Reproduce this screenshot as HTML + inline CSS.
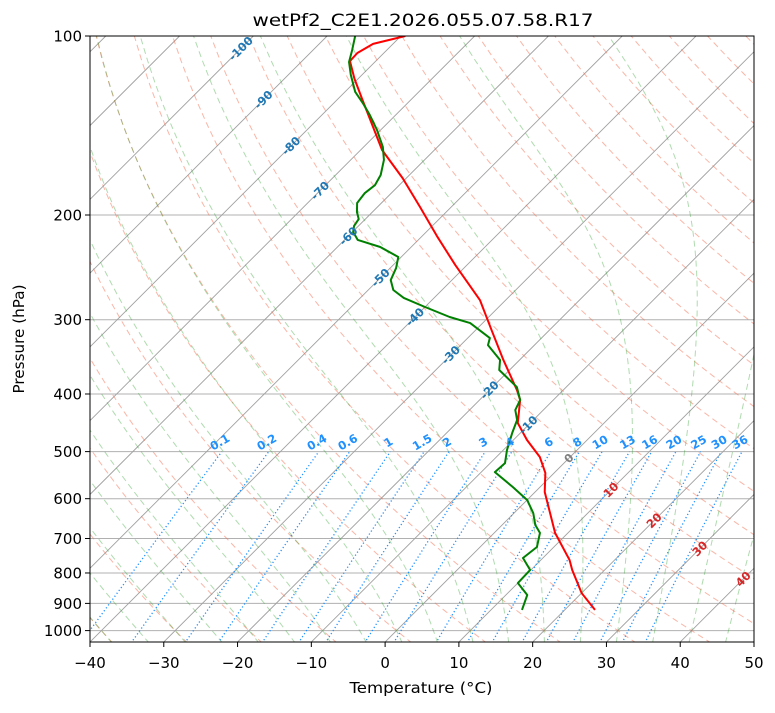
<!DOCTYPE html>
<html><head><meta charset="utf-8">
<style>
html,body{margin:0;padding:0;background:#fff;}
svg text{font-family:"DejaVu Sans","Liberation Sans",sans-serif;}
</style></head>
<body>
<svg id="chart" width="775" height="708" viewBox="0 0 775 708" xmlns="http://www.w3.org/2000/svg">
<defs><clipPath id="plotclip"><rect x="90" y="36" width="664" height="606"/></clipPath></defs>
<rect x="0" y="0" width="775" height="708" fill="#fff"/>
<text x="423" y="26" text-anchor="middle" font-size="17" textLength="341" lengthAdjust="spacingAndGlyphs" fill="#000">wetPf2_C2E1.2026.055.07.58.R17</text>
<g id="plot" clip-path="url(#plotclip)"></g>
<g id="labels"></g>
<g id="axes"></g>
</svg>
<script>
// ---- data ----
const tempP = [100,103.1,106.8,110.2,118,128.2,155.5,173.4,194,217,242.7,278,312,350.6,393.8,409.4,447.6,478,510.6,543,584.6,685,761,790.8,864.7,923];
const tempT = [-79.4,-82.7,-83.6,-83.5,-80.5,-76.5,-67.1,-60.5,-54.2,-48,-41.6,-33.5,-27.9,-22.2,-16.3,-14.5,-11.7,-8.15,-4.1,-1.2,1.3,8.25,13.9,15.6,20,24.1];
const dewP = [100,105.6,110.6,116.3,124.2,129.7,135.8,143.9,153.7,161.6,171.3,178.1,183.7,190.9,197.7,203.2,208.7,213.6,220.3,226.4,235.3,245.6,257.3,267.4,275.8,285.6,296.9,303.9,322.1,331,350.6,364.5,389.4,409.4,425.6,442.4,465.3,497,522.7,541.3,573.5,603,634.3,664.4,685,723.4,754.9,790.8,831.8,871.3,923];
const dewT = [-86.2,-84.7,-83.5,-81.5,-78.6,-76.05,-73.5,-70.5,-67.4,-65.5,-63.9,-63.3,-63.6,-63.3,-62.1,-60.9,-60.6,-59.9,-58.2,-54.2,-50.4,-49.2,-48.3,-46.6,-44.1,-40,-35.3,-31.7,-27,-26.3,-22.65,-21.4,-16.7,-14.5,-13.8,-12.2,-11.1,-9.5,-8,-8.15,-3.7,0,2.6,4.5,6.2,7.7,7.3,9.9,10,12.9,14.2];
const xTicks = [-40,-30,-20,-10,0,10,20,30,40,50];
const pTicks = [100,200,300,400,500,600,700,800,900,1000];
const isoTemps = [-100,-90,-80,-70,-60,-50,-40,-30,-20,-10,0,10,20,30,40];
const isoLabelP = [105,128,153,182,217,255,297,344,394,451,513,580,653,728,819];
const mixRatios = [0.1,0.2,0.4,0.6,1,1.5,2,3,4,6,8,10,13,16,20,25,30,36];
const dryT0 = [-40,-30,-20,-10,0,10,20,30,40,50,60,70,80,90,100,110,120,130,140,150,160,170,180,190,200];
const moistT0 = [-50,-45,-40,-35,-30,-25,-20,-15,-10,-5,0,5,10,15,20,25,30,35,40,45];

// ---- scales ----
const X0=90, X1=754, Y0=36, YB=642, PX=(X1-X0)/90, DEC=594.6;
function yP(p){return Y0+DEC*Math.log10(p/100);}
function xT(t,p){return X0+(t+40)*PX+(YB-yP(p));}
const NS="http://www.w3.org/2000/svg";
function mk(tag,attrs,parent){const e=document.createElementNS(NS,tag);for(const k in attrs)e.setAttribute(k,attrs[k]);parent.appendChild(e);return e;}
const plot=document.getElementById('plot'), labels=document.getElementById('labels'), axes=document.getElementById('axes');
function pathFrom(ts,ps){let d='';for(let i=0;i<ts.length;i++){d+=(i?'L':'M')+xT(ts[i],ps[i]).toFixed(2)+','+yP(ps[i]).toFixed(2);}return d;}
const pGrid=[];for(let p=1050;p>=100;p-=10)pGrid.push(p);

// horizontal grid
for(const p of pTicks){
  const l=mk('line',{x1:X0,x2:X1,y1:yP(p),y2:yP(p),stroke:'#b0b0b0','stroke-width':1},plot);
  
  
}
// isotherms
for(let t=-160;t<=60;t+=10){
  const l=mk('line',{x1:xT(t,1050),y1:yP(1050),x2:xT(t,100),y2:yP(100),stroke:'#a0a0a0','stroke-width':0.9},plot);
  
  
}
// dry adiabats
for(const t0 of dryT0){
  const ts=pGrid.map(p=>(t0+273.15)*Math.pow(p/1000,0.2857)-273.15);
  const e=mk('path',{d:pathFrom(ts,pGrid),fill:'none',stroke:'rgba(245,110,80,0.5)','stroke-width':1,'stroke-dasharray':'6,4'},plot);
  
  
}
// moist adiabats
function es(t){return 6.112*Math.exp(17.67*t/(t+243.5));}
function moistRate(t,p){const T=t+273.15,Rd=287.04,Cp=1005.7,L=2.501e6,eps=0.622;const e=es(t);const rs=eps*e/(p-e);
  const num=(Rd*T+L*rs)/(Cp+(L*L*rs*eps)/(Rd*T*T));return num/p;}
function moist(t0){const res={};let t=t0;res[1000]=t;
  for(let p=1000;p>100;p-=1){t-=moistRate(t,p)*1;if((p-1)%10===0)res[p-1]=t;}
  t=t0;for(let p=1000;p<1050;p+=1){t+=moistRate(t,p);if((p+1)%10===0)res[p+1]=t;}
  return pGrid.map(p=>res[p]);}
for(const t0 of moistT0){
  const e=mk('path',{d:pathFrom(moist(t0),pGrid),fill:'none',stroke:'rgba(44,160,44,0.38)','stroke-width':1,'stroke-dasharray':'6,4'},plot);
  
  
}
// mixing ratio lines
function tdFromW(w,p){const e=w*p/(0.622+w);const l=Math.log(e/6.112);return 243.5*l/(17.67-l);}
const mpGrid=[];for(let p=1050;p>=500;p-=10)mpGrid.push(p);
for(const w of mixRatios){
  const ts=mpGrid.map(p=>tdFromW(w/1000,p));
  const e=mk('path',{d:pathFrom(ts,mpGrid),fill:'none',stroke:'#1e90ff','stroke-width':1.3,'stroke-dasharray':'1.2,2.4'},plot);
  
  
  const x=xT(tdFromW(w/1000,500),500), y=yP(500)-6;
  const tx=mk('text',{x:x,y:y,'text-anchor':'middle','font-size':11.5,'font-weight':'bold',fill:'#1e90ff',transform:`rotate(-30 ${x} ${y})`},labels);
  tx.textContent=String(w);
  
  
}
// isotherm labels
isoTemps.forEach((t,i)=>{
  const p=isoLabelP[i];const x=xT(t,p), y=yP(p);
  const col=t<0?'#1f77b4':(t===0?'#808080':'#d62728');
  const tx=mk('text',{x:x,y:y+4,'text-anchor':'middle','font-size':11.5,'font-weight':'bold',fill:col,transform:`rotate(-45 ${x} ${y})`},labels);
  tx.textContent=String(t);
  
  
});
// profiles
const tl=mk('path',{d:pathFrom(tempT,tempP),fill:'none',stroke:'#ff0000','stroke-width':2,'stroke-linejoin':'round'},plot);


const dl=mk('path',{d:pathFrom(dewT,dewP),fill:'none',stroke:'#008000','stroke-width':2,'stroke-linejoin':'round'},plot);



// frame
const fr=mk('rect',{x:X0,y:Y0,width:X1-X0,height:YB-Y0,fill:'none',stroke:'#000','stroke-width':1},axes);


// x ticks
for(const t of xTicks){
  const x=X0+(t+40)*PX;
  const l=mk('line',{x1:x,x2:x,y1:YB,y2:YB+5,stroke:'#000','stroke-width':1},axes);
  
  
  const tx=mk('text',{x:x,y:YB+26,'text-anchor':'middle','font-size':15,fill:'#000'},axes);
  tx.textContent=(t<0?'\u2212'+(-t):String(t));
  
  
}
// y ticks
for(const p of pTicks){
  const y=yP(p);
  const l=mk('line',{x1:X0-5,x2:X0,y1:y,y2:y,stroke:'#000','stroke-width':1},axes);
  
  
  const tx=mk('text',{x:X0-8,y:y+5.5,'text-anchor':'end','font-size':15,fill:'#000'},axes);
  tx.textContent=String(p);
  
  
}
const xl=mk('text',{x:421,y:693,'text-anchor':'middle','font-size':15,fill:'#000',textLength:143,lengthAdjust:'spacingAndGlyphs'},axes);
xl.textContent='Temperature (\u00b0C)';


const yl=mk('text',{x:24,y:339,'text-anchor':'middle','font-size':15,fill:'#000',transform:'rotate(-90 24 339)',textLength:109,lengthAdjust:'spacingAndGlyphs'},axes);
yl.textContent='Pressure (hPa)';


</script>
</body></html>
